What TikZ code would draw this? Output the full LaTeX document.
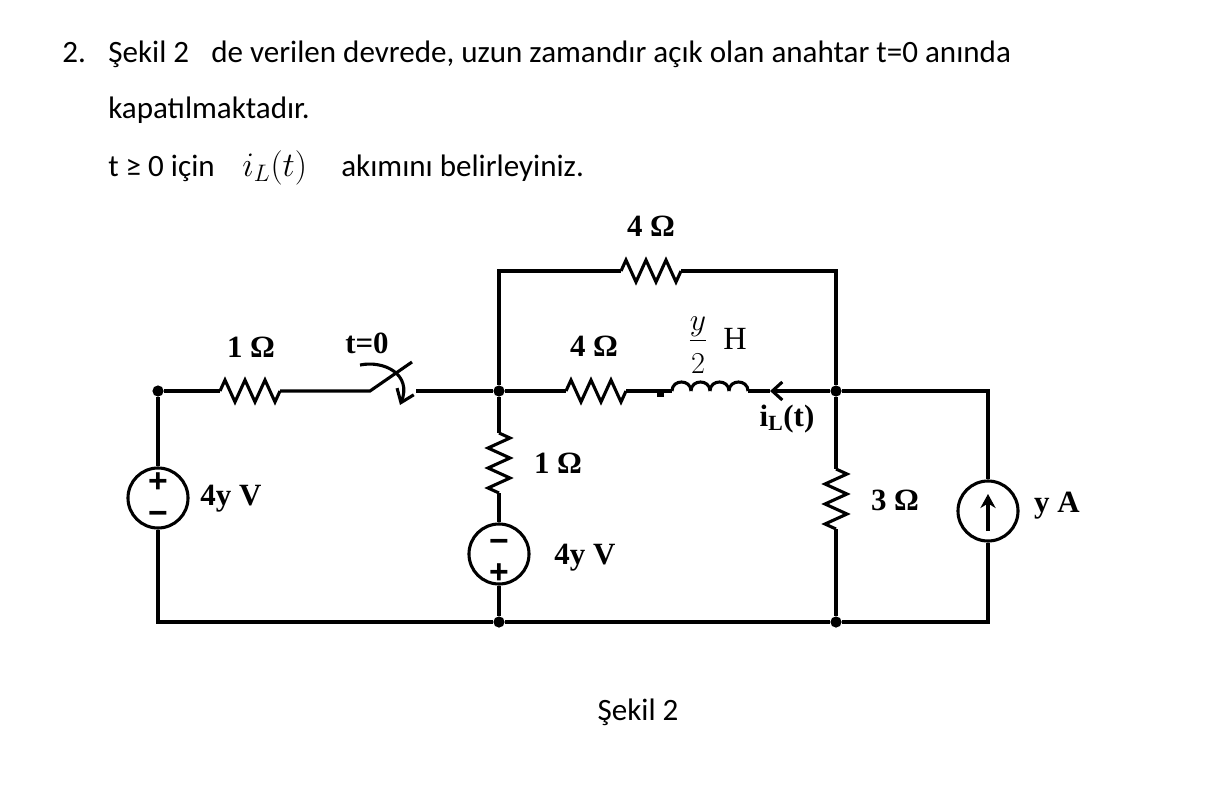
\documentclass[tikz,border=0pt]{standalone}
\usepackage{fontspec}
\setmainfont{Carlito}
\newfontfamily\circuitfont{Liberation Serif}
\newfontfamily\signfont{Liberation Sans}
\usetikzlibrary{arrows.meta}

\begin{document}
\begin{tikzpicture}[
  x=0.025cm, y=-0.025cm,
  wire/.style={line width=2.2pt,line join=miter},
  textline/.style={anchor=base west,inner sep=0,font=\fontsize{22.1}{26}\selectfont},
  partlabel/.style={inner sep=0,font=\circuitfont\bfseries\fontsize{22}{26}\selectfont},
  signlabel/.style={inner sep=0,font=\signfont\bfseries\fontsize{24}{28}\selectfont},
  junction/.style={circle,fill=black,inner sep=0,minimum size=0.28cm},
  source/.style={circle,draw,line width=2.2pt,inner sep=0,minimum size=1.5cm},
  pics/resistor/.style={code={
    \coordinate (-west) at (-30,0);
    \coordinate (-east) at (30,0);
    \draw[wire] (-30,0) -- (-25,-11) -- (-15,11) -- (-5,-11) -- (5,11) -- (15,-11) -- (25,11) -- (30,0);
  }},
  pics/coil/.style={code={
    \coordinate (-west) at (-38,0);
    \coordinate (-east) at (38,0);
    \draw[wire] (-38,0) .. controls +(0,-12) and +(0,-12) .. +(19,0)
    (-19,0) .. controls +(0,-12) and +(0,-12) .. +(19,0)
    (0,0) .. controls +(0,-12) and +(0,-12) .. +(19,0)
    (19,0) .. controls +(0,-12) and +(0,-12) .. +(19,0);
  }}]

  \useasboundingbox (0,0) rectangle (1212,796);

  \node[textline] (ItemNumber) at (62,62) {2.};
  \node[textline] (FigureRef) at (108,62) {Şekil 2};
  \node[textline] (FirstLine) at (211,62) {de verilen devrede, uzun zamandır açık olan anahtar t=0 anında};
  \node[textline] (SecondLine) at (108,118) {kapatılmaktadır.};
  \node[textline] (ThirdLine) at (108,176) {t ≥ 0 için};
  \node[textline] (CurrentName) at (242,176) {\scalebox{1.18}{$i_L(t)$}};
  \node[textline] (LastLine) at (341,176) {akımını belirleyiniz.};
  \node[textline,anchor=base] (FigureName) at (638,720) {Şekil 2};

  \node[junction] (LeftNode) at (158,391) {};
  \node[junction] (MidNode) at (499,391) {};
  \node[junction] (RightNode) at (836,391) {};
  \node[junction] (BottomMid) at (499,622) {};
  \node[junction] (BottomRight) at (836,622) {};

  \coordinate (TopLeft) at (499,271);
  \coordinate (TopRight) at (836,271);
  \coordinate (FarTop) at (988,391);
  \coordinate (FarBottom) at (988,622);
  \coordinate (BottomLeft) at (158,622);
  \coordinate (SwitchLeft) at (370,391);
  \coordinate (SwitchTip) at (412,362);
  \coordinate (SwitchRight) at (416,391);
  \coordinate (SwingStart) at (360,365);
  \coordinate (SwingEnd) at (400,405);
  \coordinate (CurrentTip) at (770,391);
  \coordinate (ArrowTail) at (988,531);
  \coordinate (ArrowHead) at (988,494);

  \pic (ResOne) at (250,391) {resistor};
  \pic (ResTop) at (651,271) {resistor};
  \pic (ResMid) at (596,391) {resistor};
  \pic[rotate=90] (ResDown) at (499,463) {resistor};
  \pic[rotate=90] (ResRight) at (836,499) {resistor};
  \pic (Coil) at (710,391) {coil};

  \node[source] (LeftSource) at (158,498) {};
  \node[source] (MidSource) at (499,554) {};
  \node[source] (CurrentSource) at (988,511) {};

  \node[signlabel] (LeftPlus) at (158,483) {+};
  \node[signlabel] (LeftMinus) at (158,518) {−};
  \node[signlabel] (MidMinus) at (499,546) {−};
  \node[signlabel] (MidPlus) at (499,574) {+};

  \draw[wire] (LeftNode) -- (ResOne-west);
  \draw[wire] (ResOne-east) -- (SwitchLeft) -- (SwitchTip);
  \draw[wire] (SwitchRight) -- (MidNode);
  \draw[wire] (MidNode) -- (TopLeft) -- (ResTop-west);
  \draw[wire] (ResTop-east) -- (TopRight) -- (RightNode);
  \draw[wire] (MidNode) -- (ResMid-west);
  \draw[wire] (ResMid-east) -- (Coil-west);
  \draw[wire] (Coil-east) -- (CurrentTip);
  \draw[wire,-{Straight Barb[length=0.25cm,width=0.45cm]}] (RightNode) -- (CurrentTip);
  \draw[wire] (RightNode) -- (FarTop) -- (CurrentSource);
  \draw[wire] (CurrentSource) -- (FarBottom) -- (BottomRight);
  \draw[wire] (RightNode) -- (ResRight-east);
  \draw[wire] (ResRight-west) -- (BottomRight);
  \draw[wire] (BottomRight) -- (BottomMid);
  \draw[wire] (BottomMid) -- (BottomLeft) -- (LeftSource);
  \draw[wire] (LeftSource) -- (LeftNode);
  \draw[wire] (MidNode) -- (ResDown-east);
  \draw[wire] (ResDown-west) -- (MidSource);
  \draw[wire] (MidSource) -- (BottomMid);

  \fill (657,391) rectangle (664,397);

  \draw[wire,-{Straight Barb[length=0.3cm,width=0.45cm]}]
  (SwingStart) .. controls (385,360) and (412,375) .. (SwingEnd);
  \draw[wire,-{Stealth[length=0.35cm,width=0.38cm]}] (ArrowTail) -- (ArrowHead);

  \node[partlabel] (ResOneLabel) at (251,347) {1 Ω};
  \node[partlabel] (SwitchLabel) at (367,343) {t=0};
  \node[partlabel] (LeftVolt) at (231,499) {4y V};
  \node[partlabel] (ResTopLabel) at (651,226) {4 Ω};
  \node[partlabel] (ResMidLabel) at (594,346) {4 Ω};
  \node[partlabel,font=\fontsize{18}{21}\selectfont] (CoilFrac) at (698,345) {$\displaystyle\frac{\scalebox{1.3}{$y$}}{\rule{0pt}{22pt}\scalebox{1.25}{$2$}}$};
  \node[partlabel,font=\circuitfont\fontsize{23}{26}\selectfont] (CoilUnit) at (735,339) {H};
  \node[partlabel] (CurrentLabel) at (787,419) {i\textsubscript{L}(t)};
  \node[partlabel] (ResDownLabel) at (558,463) {1 Ω};
  \node[partlabel] (MidVolt) at (585,558) {4y V};
  \node[partlabel] (ResRightLabel) at (895,500) {3 Ω};
  \node[partlabel] (SourceLabel) at (1057,506) {y A};
\end{tikzpicture}
\end{document}
